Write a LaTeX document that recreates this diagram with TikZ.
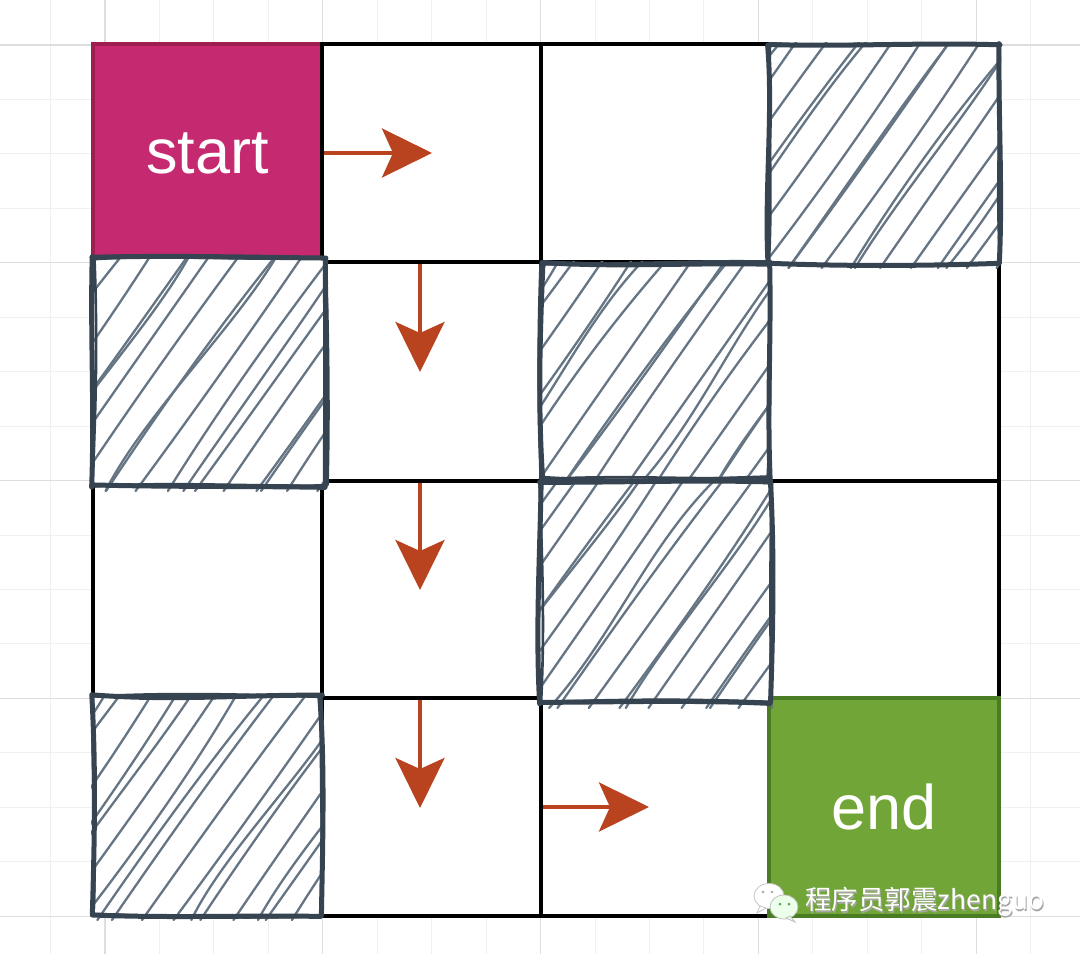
\documentclass[tikz,border=0pt]{standalone}
\usepackage{fontspec}
\setmainfont{Liberation Sans}
\newfontfamily\cjkfont{Noto Sans CJK SC}
\usetikzlibrary{arrows.meta}
\definecolor{startfill}{RGB}{197,41,112}
\definecolor{startline}{RGB}{158,30,80}
\definecolor{endfill}{RGB}{114,165,56}
\definecolor{endline}{RGB}{74,125,35}
\definecolor{sketchline}{RGB}{54,67,80}
\definecolor{hatchline}{RGB}{102,117,132}
\definecolor{arrowc}{RGB}{185,67,30}
\definecolor{minorgrid}{RGB}{240,240,240}
\definecolor{majorgrid}{RGB}{222,222,222}

\newcommand\gridcell[6]{%
  \node[#6, minimum width={#4-#2}, minimum height={#5-#3}] (#1) at ({(#2+#4)/2},{(#3+#5)/2}) {};}

\newcommand\rside[6]{%
  \draw[sketchstroke, line width=#6] ({#1+1.5*rand},{#2+1.5*rand}) .. controls ({#1+(#3-#1)/3+#5*rand},{#2+(#4-#2)/3+#5*rand}) and ({#1+2*(#3-#1)/3+#5*rand},{#2+2*(#4-#2)/3+#5*rand}) .. ({#3+1.5*rand},{#4+1.5*rand});}

\newcommand\sketchcell[6]{%
  \node[sketchfill, minimum width={#4-#2}, minimum height={#5-#3}] (#1) at ({(#2+#4)/2},{(#3+#5)/2}) {};
  \pgfmathsetseed{#6}%
  \begin{scope}
    \clip ({#2-2},{#3-2}) rectangle ({#4+2},{#5+6});
    \pgfmathsetmacro\hxh{#5-#3}%
    \pgfmathsetmacro\hxd{0.73*\hxh}%
    \foreach \k in {0,...,13} {
      \pgfmathsetmacro\hxa{#2-\hxd+\k*30+3*rand}%
      \pgfmathsetmacro\hxb{7*rand}%
      \pgfmathsetmacro\hxe{\hxa+\hxd+5*rand}%
      \draw[hatchstroke] ({\hxa},{#5+5}) .. controls ({\hxa+0.33*\hxd+\hxb},{#5-0.33*\hxh}) and ({\hxa+0.66*\hxd+\hxb},{#3+0.33*\hxh}) .. ({\hxe},{#3-2});
    }
    \foreach \k in {0,...,4} {
      \pgfmathsetmacro\hxa{#2-\hxd+\k*80+12+8*rand}%
      \pgfmathsetmacro\hxb{16*rand}%
      \pgfmathsetmacro\hxe{\hxa+\hxd+8*rand}%
      \draw[hatchstroke] ({\hxa},{#5+5}) .. controls ({\hxa+0.3*\hxd+\hxb},{#5-0.3*\hxh}) and ({\hxa+0.7*\hxd-\hxb},{#3+0.3*\hxh}) .. ({\hxe},{#3-2});
    }
  \end{scope}
  \foreach \w in {5pt,2.6pt} {
    \rside{#2}{#3}{#4}{#3}{5}{\w}
    \rside{#4}{#3}{#4}{#5}{5}{\w}
    \rside{#4}{#5}{#2}{#5}{5}{\w}
    \rside{#2}{#5}{#2}{#3}{5}{\w}
  }
}

\begin{document}
\begin{tikzpicture}[x=1pt,y=-1pt,
  whitecell/.style={draw=black, line width=4pt, fill=white, inner sep=0pt},
  startcell/.style={draw=startline, line width=3.5pt, fill=startfill, inner sep=0pt, text=white, font=\fontsize{63}{63}\selectfont},
  endcell/.style={draw=endline, line width=3.5pt, fill=endfill, inner sep=0pt, text=white, font=\fontsize{63}{63}\selectfont},
  sketchfill/.style={fill=white, inner sep=0pt},
  sketchstroke/.style={draw=sketchline, line cap=round},
  hatchstroke/.style={draw=hatchline, line width=2.3pt, line cap=round},
  flowarrow/.style={draw=arrowc, line width=4pt, -{Stealth[length=50pt,width=49pt,inset=11pt]}},
  minorline/.style={draw=minorgrid, line width=1pt},
  majorline/.style={draw=majorgrid, line width=1.2pt}]
\useasboundingbox (0,0) rectangle (1080,954);
\fill[white] (0,0) rectangle (1080,954);
% background grid
\foreach \i in {0,...,18} {
  \draw[minorline] ({105+54.45*(\i-1)},0) -- ({105+54.45*(\i-1)},954);
}
\foreach \j in {-1,...,17} {
  \draw[minorline] (0,{45+54.45*\j}) -- (1080,{45+54.45*\j});
}
\foreach \g in {0,...,4} {
  \draw[majorline] ({105+217.8*\g},0) -- ({105+217.8*\g},954);
  \draw[majorline] (0,{45+217.8*\g}) -- (1080,{45+217.8*\g});
}
% start cell
\node[startcell, minimum width=229, minimum height=218] (start) at (207.5,153) {\raisebox{-4pt}{start}};
% white cells
\gridcell{c01}{322}{44}{541}{262}{whitecell}
\gridcell{c02}{541}{44}{769}{262}{whitecell}
\gridcell{c11}{322}{262}{541}{481}{whitecell}
\gridcell{c13}{769}{262}{999}{481}{whitecell}
\gridcell{c20}{93}{481}{322}{698}{whitecell}
\gridcell{c21}{322}{481}{541}{698}{whitecell}
\gridcell{c23}{769}{481}{999}{698}{whitecell}
\gridcell{c31}{322}{698}{541}{916}{whitecell}
\gridcell{c32}{541}{698}{769}{916}{whitecell}
% end cell
\node[endcell, minimum width=230, minimum height=218] (end) at (884,807) {\raisebox{-2pt}{end}};
% sketched blocked cells
\sketchcell{c03}{769}{44}{999}{263}{11}
\sketchcell{c10}{93}{258}{326}{486}{23}
\sketchcell{c12}{542}{263}{769}{479}{37}
\sketchcell{c22}{540}{482}{771}{703}{41}
\sketchcell{c30}{93}{696}{321}{915}{53}
% arrows
\coordinate (r1s) at (324,153);
\coordinate (r1e) at (432,153);
\coordinate (d1s) at (420,264);
\coordinate (d1e) at (420,372);
\coordinate (d2s) at (420,483);
\coordinate (d2e) at (420,590);
\coordinate (d3s) at (420,700);
\coordinate (d3e) at (420,808);
\coordinate (r2s) at (543,807);
\coordinate (r2e) at (649,807);
\draw[flowarrow] (r1s) -- (r1e);
\draw[flowarrow] (d1s) -- (d1e);
\draw[flowarrow] (d2s) -- (d2e);
\draw[flowarrow] (d3s) -- (d3e);
\draw[flowarrow] (r2s) -- (r2e);
% watermark
\draw[fill=white, draw=gray!45, line width=0.8pt] (769,896) ellipse [x radius=15, y radius=12.5];
\draw[fill=white, draw=gray!45, line width=0.8pt] (760,906) -- (757,913) -- (766,908) -- cycle;
\fill[gray!70] (763,892) circle (1.4);
\fill[gray!70] (772,892) circle (1.4);
\draw[fill=white!92!green, draw=gray!50, line width=0.8pt] (784,907) ellipse [x radius=14, y radius=12];
\draw[fill=white!92!green, draw=gray!50, line width=0.8pt] (790,916) -- (795,922) -- (786,918) -- cycle;
\fill[green!30!gray] (780,904) circle (1.5);
\fill[green!30!gray] (789,904) circle (1.5);
\node[anchor=west, inner sep=0pt, text=gray!70, font=\cjkfont\fontsize{26.5}{26.5}\selectfont] (wmshadow) at (806,903.5) {程序员郭震zhenguo};
\node[anchor=west, inner sep=0pt, text=white, font=\cjkfont\fontsize{26.5}{26.5}\selectfont] (wm) at (805,902) {程序员郭震zhenguo};
\end{tikzpicture}
\end{document}
